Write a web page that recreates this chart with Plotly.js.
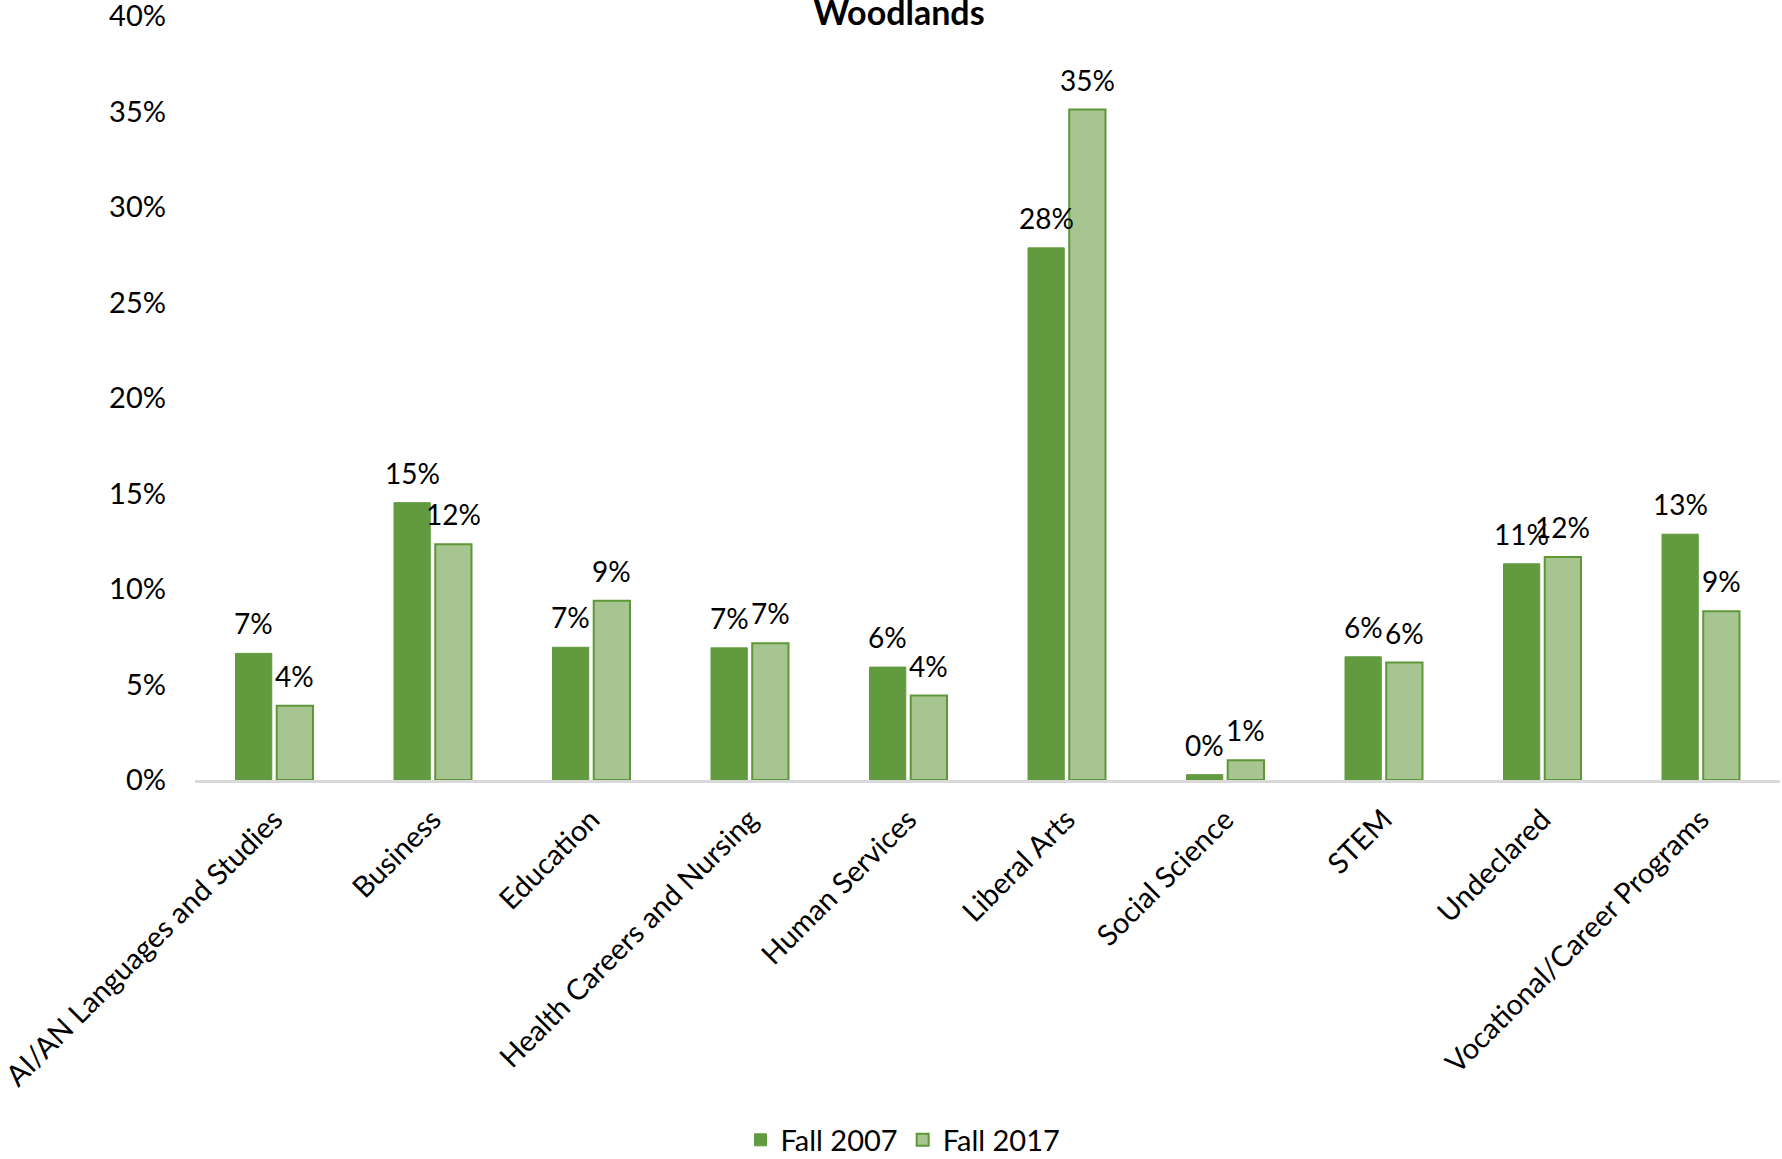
<!DOCTYPE html>
<html>
<head>
<meta charset="utf-8">
<script src="https://cdn.plot.ly/plotly-3.0.1.min.js"></script>
<style>html,body{margin:0;padding:0;background:#fff;}#chart{width:1782px;height:1159px;}</style>
</head>
<body>
<div id="chart"></div>
<script>
const categories = ["AI/AN Languages and Studies", "Business", "Education", "Health Careers and Nursing", "Human Services", "Liberal Arts", "Social Science", "STEM", "Undeclared", "Vocational/Career Programs"];
const fall2007 = [0.0663, 0.1452, 0.0695, 0.0692, 0.0591, 0.2786, 0.0028, 0.0645, 0.1132, 0.1287];
const fall2017 = [0.0389, 0.1234, 0.0939, 0.0716, 0.0442, 0.3510, 0.0103, 0.0615, 0.1168, 0.0883];
const yTicks = [0, 0.05, 0.10, 0.15, 0.20, 0.25, 0.30, 0.35, 0.40];
const yTickText = ["0%", "5%", "10%", "15%", "20%", "25%", "30%", "35%", "40%"];

const FONT = "Lato, 'Noto Sans', sans-serif";
const LABEL_SIZE = 28;

const traces = [
  {
    type: 'bar', name: 'Fall 2007', x: categories, y: fall2007,
    marker: {color: '#629b3f', line: {color: '#629b3f', width: 1}},
    hoverinfo: 'skip'
  },
  {
    type: 'bar', name: 'Fall 2017', x: categories, y: fall2017,
    marker: {color: '#a6c591', line: {color: '#5e9638', width: 2}},
    hoverinfo: 'skip'
  }
];

// data labels (positioned through the axes from the data arrays)
const plotLeft = 195, plotRight = 1780;
const catWidth = (plotRight - plotLeft) / categories.length;
const bargap = 0.48;
const slot = catWidth * (1 - bargap) / 2;
const annotations = [];
[[fall2007, -slot / 2], [fall2017, slot / 2]].forEach(([vals, dx]) => {
  vals.forEach((v, i) => {
    annotations.push({
      x: categories[i], y: v, xref: 'x', yref: 'y',
      text: Math.round(v * 100) + '%', showarrow: false,
      xanchor: 'center', yanchor: 'bottom', xshift: dx, yshift: 11,
      font: {family: FONT, size: LABEL_SIZE, color: '#000'}
    });
  });
});

const layout = {
  width: 1782, height: 1159,
  paper_bgcolor: '#fff', plot_bgcolor: '#fff',
  margin: {l: plotLeft, r: 1782 - plotRight, t: 16, b: 379, autoexpand: false},
  font: {family: FONT, size: 29, color: '#000'},
  title: {text: '<b>Woodlands</b>', font: {family: FONT, size: 34, color: '#000'},
          x: 0.5045, xref: 'container', xanchor: 'center',
          y: 1 - 13 / 1159, yref: 'container', yanchor: 'middle'},
  barmode: 'group', bargap: bargap, bargroupgap: 0.12,
  annotations: annotations,
  xaxis: {
    type: 'category', tickangle: -45, showgrid: false, zeroline: false,
    showline: true, linecolor: '#d9d9d9', linewidth: 3, ticks: '',
    ticklabelstandoff: 8, automargin: false,
    tickfont: {family: FONT, size: 29, color: '#000'}
  },
  yaxis: {
    range: [0, 0.40], tickvals: yTicks, ticktext: yTickText,
    showgrid: false, zeroline: false, showline: false, ticks: '',
    ticklabelstandoff: 28, automargin: false, ticklabeloverflow: 'allow',
    tickfont: {family: FONT, size: 29, color: '#000'}
  },
  showlegend: true,
  legend: {orientation: 'h', xref: 'container', yref: 'container',
           x: 903 / 1782, xanchor: 'center', y: 1 - 1140 / 1159, yanchor: 'middle',
           font: {family: FONT, size: 29, color: '#000'}, itemwidth: 30}
};

Plotly.newPlot('chart', traces, layout, {displayModeBar: false, staticPlot: true});
</script>
</body>
</html>
